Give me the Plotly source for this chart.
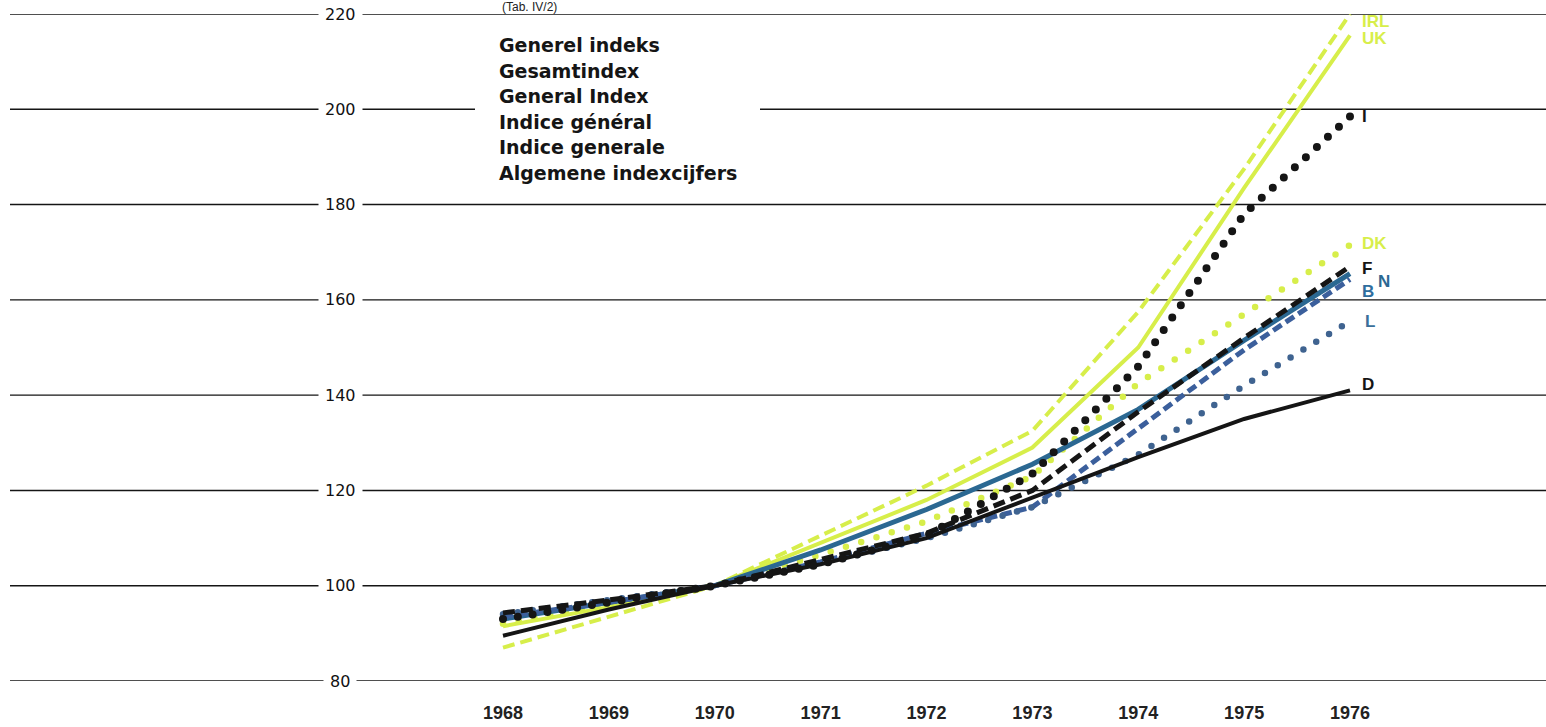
import plotly.graph_objects as go

# ---------------- data ----------------
years = [1968, 1969, 1970, 1971, 1972, 1973, 1974, 1975, 1976]
year_labels = [str(y) for y in years]

irl = [87, 93.5, 100, 110.5, 121, 132.5, 157.5, 187.5, 220]
uk = [91.5, 95.5, 100, 109, 118, 129, 150, 183.5, 215.5]
dk = [92, 96, 100, 106.5, 113.5, 123, 142.5, 157, 171.5]
italy = [93, 96.5, 100, 104.5, 110.5, 123.5, 146, 178, 198.5]
france = [94.3, 97, 100, 105.5, 111, 120, 136.5, 152, 167]
nl = [93, 96.5, 100, 107.5, 116, 125.5, 137, 151.5, 165.5]
belgium = [93.5, 96.5, 100, 105, 111, 116.5, 133, 149.5, 164.3]
lux = [94, 97, 100, 104.5, 110, 116.5, 127.5, 142, 155.5]
germany = [89.5, 95, 100, 104.5, 110, 118.5, 127, 135, 141]

series_labels = ["DK", "UK", "IRL", "N", "B", "L", "D", "F", "I"]
series_values = [dk, uk, irl, nl, belgium, lux, germany, france, italy]

y_ticks = [80, 100, 120, 140, 160, 180, 200, 220]
legend_lines = ["Generel indeks", "Gesamtindex", "General Index",
                "Indice général", "Indice generale", "Algemene indexcijfers"]
source_note = "(Tab. IV/2)"

# ---------------- styles ----------------
YEL = "#d7ee4a"
BLK = "#151515"
styles = {
    "DK":  dict(color=YEL, width=6.5, dash="0px,16px", lab=YEL, dx=10, dy=2),
    "UK":  dict(color=YEL, width=4, dash="solid", lab=YEL, dx=10, dy=-3),
    "IRL": dict(color=YEL, width=4, dash="12px,6px", lab=YEL, dx=10, dy=-8),
    "N":   dict(color="#2b6892", width=5, dash="solid", lab="#2b6892", dx=26, dy=-8),
    "B":   dict(color="#3b5f9c", width=5, dash="10px,5px", lab="#2f6e9e", dx=10, dy=-12),
    "L":   dict(color="#3f6390", width=6.5, dash="0px,15px", lab="#3a6f9a", dx=13, dy=0),
    "D":   dict(color=BLK, width=4, dash="solid", lab=BLK, dx=10, dy=6),
    "F":   dict(color=BLK, width=5, dash="12px,6px", lab=BLK, dx=10, dy=-2),
    "I":   dict(color=BLK, width=8, dash="0px,15px", lab=BLK, dx=10, dy=0),
}

W, H = 1546, 727
ML, MR, MT, MB = 10, 0, 14, 46
plot_w = W - ML - MR
plot_h = H - MT - MB
px_per_year = 105.875
x0_px = 503  # page pixel of the first year
xmin = years[0] - (x0_px - ML) / px_per_year
xmax = xmin + plot_w / px_per_year
ymin, ymax = y_ticks[0], y_ticks[-1]
px_per_unit = plot_h / (ymax - ymin)

def px_to_paper_x(px):
    return (px - ML) / plot_w

def px_to_paper_y(py):
    return (H - MB - py) / plot_h

fig = go.Figure()

for lab, vals in zip(series_labels, series_values):
    s = styles[lab]
    fig.add_trace(go.Scatter(
        x=years, y=vals, mode="lines", name=lab,
        line=dict(color=s["color"], width=s["width"], dash=s["dash"]),
        hoverinfo="skip", showlegend=False))

shapes = []
for v in y_ticks:
    shapes.append(dict(type="line", xref="paper", yref="y", x0=0, x1=1, y0=v, y1=v,
                       line=dict(color=BLK, width=1.4), layer="below"))
# white block behind the title text (interrupts the 200 grid line)
shapes.append(dict(type="rect", xref="paper", yref="paper",
                   x0=px_to_paper_x(475), x1=px_to_paper_x(760),
                   y0=px_to_paper_y(185), y1=px_to_paper_y(30),
                   fillcolor="white", line=dict(width=0), layer="below"))

annotations = []
for v in y_ticks:
    annotations.append(dict(x=px_to_paper_x(340), xref="paper", y=v, yref="y",
                            text=str(v), showarrow=False, bgcolor="white",
                            borderpad=6, font=dict(family="DejaVu Sans", size=16, color="#111"),
                            xanchor="center", yanchor="middle"))

for i, line in enumerate(legend_lines):
    annotations.append(dict(x=px_to_paper_x(497), xref="paper", y=1, yref="paper",
                            yshift=-(45 - MT) - i * 25.5, text="<b>%s</b>" % line,
                            showarrow=False, xanchor="left", yanchor="middle",
                            font=dict(family="DejaVu Sans", size=19, color="#151515")))

annotations.append(dict(x=px_to_paper_x(500), xref="paper", y=1, yref="paper",
                        yshift=MT - 7, text=source_note, showarrow=False,
                        xanchor="left", yanchor="middle",
                        font=dict(family="Liberation Sans", size=12, color="#222")))

for lab, vals in zip(series_labels, series_values):
    s = styles[lab]
    anchor_y = min(vals[-1], ymax - 0.5)
    extra = (vals[-1] - anchor_y) * px_per_unit
    annotations.append(dict(x=years[-1], y=anchor_y, xref="x", yref="y",
                            text="<b>%s</b>" % lab, showarrow=False,
                            xanchor="left", yanchor="middle",
                            xshift=s["dx"], yshift=s["dy"] + extra,
                            font=dict(family="Liberation Sans", size=17, color=s["lab"])))

fig.update_layout(
    width=W, height=H,
    margin=dict(l=ML, r=MR, t=MT, b=MB, pad=0),
    paper_bgcolor="white", plot_bgcolor="white",
    shapes=shapes, annotations=annotations,
    xaxis=dict(range=[xmin, xmax], tickvals=years, ticktext=year_labels,
               showgrid=False, zeroline=False, showline=False,
               ticks="outside", ticklen=15, tickcolor="rgba(0,0,0,0)",
               tickfont=dict(family="Liberation Sans", size=18, color="#222", weight="bold")),
    yaxis=dict(range=[ymin, ymax], visible=False,
               showgrid=False, zeroline=False),
    showlegend=False,
)

post = """
document.body.style.margin = '0';
document.body.style.overflow = 'hidden';
var gd = document.getElementById('{plot_id}');
function roundDots(){
  document.querySelectorAll('path.js-line').forEach(function(p){
    var d = p.style.strokeDasharray;
    if (d && parseFloat(d) === 0) { p.style.strokeLinecap = 'round'; }
  });
}
roundDots();
if (gd && gd.on) { gd.on('plotly_afterplot', roundDots); }
"""

fig.write_html("out.html", post_script=post, config={"displayModeBar": False})
